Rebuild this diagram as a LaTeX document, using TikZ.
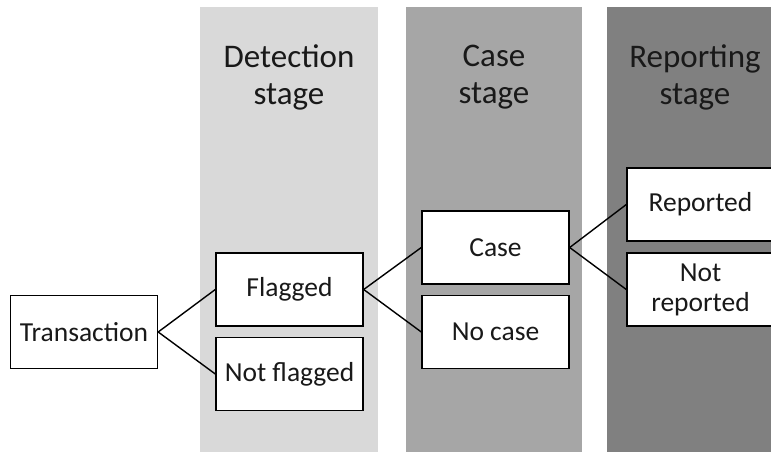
\documentclass[tikz,border=0pt]{standalone}
\usepackage{fontspec}
\setmainfont{Carlito}
\begin{document}
\begin{tikzpicture}[x=1pt,y=-1pt,
  stagehead/.style={align=center,font=\fontsize{33}{37}\selectfont,text=black!90},
  outcome/.style={draw=black,line width=1.4pt,fill=white,minimum width=147pt,minimum height=73pt,
    inner sep=0pt,align=center,font=\fontsize{27.5}{30}\selectfont,text=black!90},
  branch/.style={line width=1.4pt,draw=black}]
\useasboundingbox (0,0) rectangle (771,452);
\clip (0,0) rectangle (771,452);
\fill[white] (0,0) rectangle (771,452);
% stage columns
\fill[black!15] (200,7) rectangle (378,460);
\fill[black!35] (406,7) rectangle (582,460);
\fill[black!50] (607,7) rectangle (784,460);
\node[stagehead] (hdet) at (289,77.5) {Detection\\stage};
\node[stagehead] (hcase) at (494,77.5) {Case\\stage};
\node[stagehead] (hrep) at (695,77.5) {Reporting\\stage};
% outcome boxes
\node[outcome] (tr) at (84,332) {Transaction};
\node[outcome] (fl) at (289.5,289.5) {Flagged};
\node[outcome] (nf) at (289.5,374) {Not flagged};
\node[outcome] (ca) at (495.5,247.5) {Case};
\node[outcome] (nc) at (495.5,332) {No case};
\node[outcome] (re) at (700.5,204.5) {Reported};
\node[outcome] (nr) at (700.5,289.5) {Not\\reported};
% branches
\draw[branch] (tr.east) -- (fl.west);
\draw[branch] (tr.east) -- (nf.west);
\draw[branch] (fl.east) -- (ca.west);
\draw[branch] (fl.east) -- (nc.west);
\draw[branch] (ca.east) -- (re.west);
\draw[branch] (ca.east) -- (nr.west);
\end{tikzpicture}
\end{document}
